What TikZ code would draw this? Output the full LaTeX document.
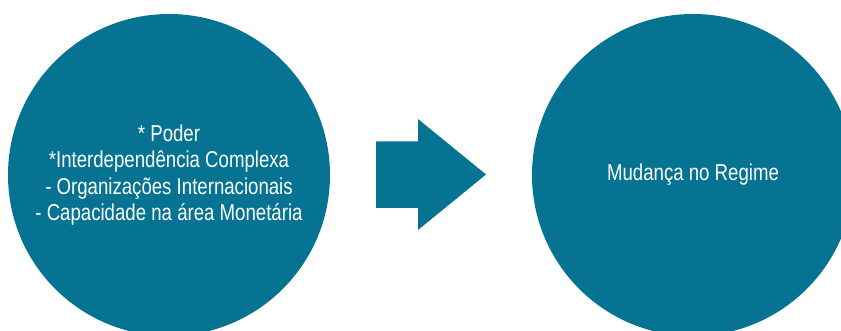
\documentclass[tikz,border=0pt]{standalone}
\usepackage{fontspec}
\setmainfont[FakeStretch=0.81]{Liberation Sans}
\definecolor{teal1}{RGB}{5,115,145}
\begin{document}
\begin{tikzpicture}[x=1pt,y=-1pt,
  bubble/.style={circle,fill=teal1,draw=none,minimum size=322pt,inner sep=0pt,
    text=white,align=center,font=\fontsize{23}{26.5}\selectfont}]
\useasboundingbox (0,0) rectangle (841,331);
\clip (0,0) rectangle (841,331);
\node[bubble] (left) at (169,175) {* Poder\\*Interdependência Complexa\\- Organizações Internacionais\\- Capacidade na área Monetária};
\node[bubble] (right) at (693,175) {Mudança no Regime};
\fill[teal1] (376,141.5) -- (418,141.5) -- (418,119) -- (486,174.5) -- (418,230) -- (418,208) -- (376,208) -- cycle;
\end{tikzpicture}
\end{document}
